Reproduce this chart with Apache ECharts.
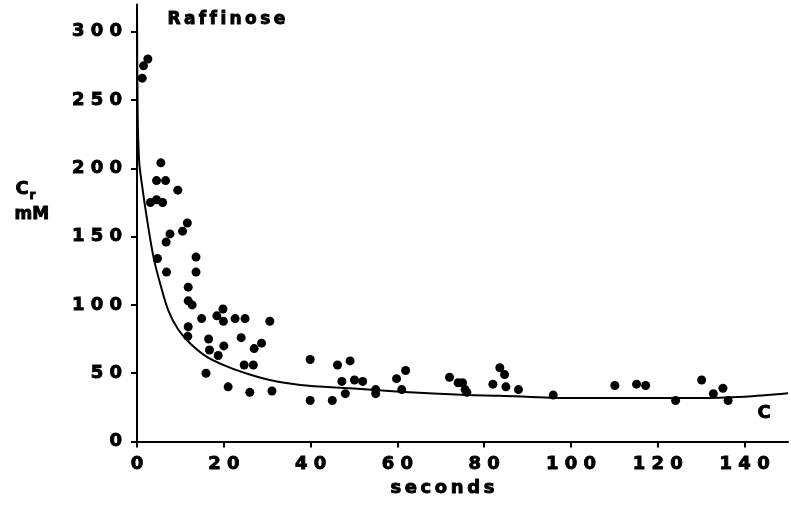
<!DOCTYPE html>
<html>
<head>
<meta charset="utf-8">
<script src="https://cdn.jsdelivr.net/npm/echarts@6/dist/echarts.min.js"></script>
<style>
  html, body { margin: 0; padding: 0; background: #fff; }
  #chart { width: 791px; height: 508px; }
</style>
</head>
<body>
<div id="chart"></div>
<script>
// Measured raffinose concentration in the cell (Cr, mM) against time (s)
const seconds = [2.5, 1.5, 1.2, 5.5, 4.5, 6.6, 9.4, 3.1, 4.5, 5.9,
  11.6, 10.5, 7.6, 6.7, 4.7, 13.6, 6.8, 13.6, 11.8, 11.8,
  12.7, 11.8, 11.7, 14.9, 16.5, 16.7, 15.9, 18.7, 18.4, 19.8,
  19.9, 20.0, 21.0, 22.6, 24.9, 24.0, 24.7, 26.8, 27.0, 28.7,
  26.0, 30.6, 31.1, 39.9, 39.9, 45.0, 46.2, 49.1, 47.2, 48.0,
  50.1, 52.0, 55.0, 55.0, 59.8, 61.9, 61.0, 72.0, 74.0, 75.0,
  75.6, 76.0, 82.0, 83.6, 84.7, 85.0, 87.9, 95.9, 110.1, 115.1,
  117.2, 124.1, 130.1, 132.8, 135.0, 136.2];
const concentration = [280, 275, 266, 204, 191, 191, 184, 175, 177, 175,
  160, 154, 152, 146, 134, 135, 124, 124, 113, 103,
  100, 84, 77, 90, 75, 67, 50, 63, 92, 97,
  88, 70, 40, 90, 90, 76, 56, 56, 68, 72,
  36, 88, 37, 60, 30, 30, 56, 59, 44, 35,
  45, 44, 38, 35, 46, 52, 38, 47, 43, 43,
  38, 36, 42, 54, 49, 40, 38, 34, 41, 42,
  41, 30, 45, 35, 39, 30];

// Fitted curve C
const curveSeconds = [0, 0.15, 0.5, 1.1, 2.2, 3.8, 5.3, 7.2, 9.5, 12.2,
  16.1, 20.7, 26, 30.6, 37.6, 49.1, 60.6, 76, 83.6, 95.2,
  106.7, 129, 140, 150];
const curveConcentration = [320, 240, 205, 189, 165, 135, 116, 96, 82, 72,
  62, 55, 49, 45, 41.4, 38.9, 36.5, 34, 33.5, 32.1,
  31.8, 31.8, 32.8, 35.3];

// Axis ticks
const xTicks = [0, 20, 40, 60, 80, 100, 120, 140];
const yTicks = [0, 50, 100, 150, 200, 250, 300];

const FONT = 'DejaVu Sans';
const spaced = (s, sep) => String(s).split('').join(sep);

const chart = echarts.init(document.getElementById('chart'), null, { renderer: 'canvas' });

const axisLine = { show: true, lineStyle: { color: '#000', width: 2 } };
const axisTick = { show: true, inside: false, length: 6, lineStyle: { color: '#000', width: 2 } };
const axisLabel = {
  color: '#000', fontFamily: FONT, fontWeight: 'bold', fontSize: 18,
  textBorderColor: '#000', textBorderWidth: 0.9,
  formatter: v => spaced(v, ' ')
};
// heavy label text: bold face with a thin outline of the same colour
const heavy = (text, size) => ({
  text, fill: '#000', stroke: '#000', lineWidth: 0.9,
  font: 'bold ' + size + 'px "DejaVu Sans"'
});

chart.setOption({
  animation: false,
  backgroundColor: '#fff',
  grid: { left: 137, right: 3, top: 4.4, bottom: 66.5 },
  xAxis: {
    type: 'value', min: 0, max: 150,
    axisLine,
    axisTick: Object.assign({}, axisTick, { customValues: xTicks }),
    splitLine: { show: false },
    axisLabel: Object.assign({}, axisLabel, { customValues: xTicks, margin: 14 })
  },
  yAxis: {
    type: 'value', min: 0, max: 320,
    axisLine,
    axisTick: Object.assign({}, axisTick, { customValues: yTicks }),
    splitLine: { show: false },
    axisLabel: Object.assign({}, axisLabel, { customValues: yTicks, margin: 15 })
  },
  series: [
    {
      type: 'line',
      data: curveSeconds.map((t, i) => [t, curveConcentration[i]]),
      showSymbol: false,
      smooth: 0.3,
      lineStyle: { color: '#000', width: 2 },
      z: 2
    },
    {
      type: 'scatter',
      data: seconds.map((t, i) => [t, concentration[i]]),
      symbol: 'circle',
      symbolSize: 9,
      itemStyle: { color: '#000', opacity: 1 },
      z: 3
    }
  ],
  graphic: [
    { type: 'text', left: 167, top: 11, style: heavy(spaced('Raffinose', '\u2009'), 17) },
    { type: 'text', left: 15, top: 180, style: heavy('C', 18) },
    { type: 'text', left: 29, top: 189, style: heavy('r', 12) },
    { type: 'text', left: 14, top: 206, style: heavy('mM', 17) },
    { type: 'text', left: 757, top: 404, style: heavy('C', 18) },
    { type: 'text', left: 390, top: 479, style: heavy(spaced('seconds', '\u2009'), 18) }
  ]
});
</script>
</body>
</html>
